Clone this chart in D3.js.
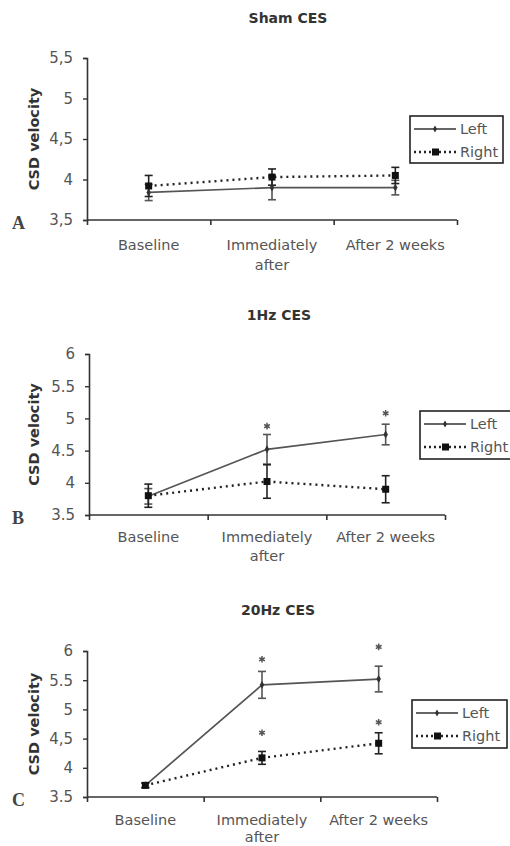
<!DOCTYPE html>
<html><head><meta charset="utf-8">
<script src="https://cdn.jsdelivr.net/npm/d3@7/dist/d3.min.js"></script>
<style>
html,body{margin:0;padding:0;background:#fff;}
svg{display:block;}
</style></head>
<body>
<svg id="chart" width="510" height="846"></svg>
<script>
// ---- data ----
const categories = [["Baseline"], ["Immediately", "after"], ["After 2 weeks"]];
const panelTitles = ["Sham CES", "1Hz CES", "20Hz CES"];
const panelLetters = ["A", "B", "C"];
const seriesNames = ["Left", "Right"];

const shamLeft = [3.84, 3.90, 3.90];
const shamLeftErr = [0.10, 0.15, 0.09];
const shamRight = [3.92, 4.03, 4.05];
const shamRightErr = [0.13, 0.10, 0.10];

const hz1Left = [3.79, 4.52, 4.75];
const hz1LeftErr = [0.12, 0.23, 0.16];
const hz1Right = [3.80, 4.02, 3.90];
const hz1RightErr = [0.18, 0.26, 0.21];
const hz1LeftStars = [null, 4.88, 5.08];
const hz1RightStars = [null, null, null];

const hz20Left = [3.70, 5.42, 5.52];
const hz20LeftErr = [0.04, 0.23, 0.22];
const hz20Right = [3.70, 4.17, 4.42];
const hz20RightErr = [0.04, 0.11, 0.18];
const hz20LeftStars = [null, 5.86, 6.07];
const hz20RightStars = [null, 4.60, 4.78];

const shamTicks = ["3,5", "4", "4,5", "5", "5,5"];
const hz1Ticks = ["3.5", "4", "4.5", "5", "5.5", "6"];
const hz20Ticks = ["3.5", "4", "4,5", "5", "5.5", "6"];
const shamTickValues = [3.5, 4, 4.5, 5, 5.5];
const hzTickValues = [3.5, 4, 4.5, 5, 5.5, 6];

// ---- layout ----
const panels = [
  {title: panelTitles[0], letter: panelLetters[0], left: shamLeft, leftErr: shamLeftErr, right: shamRight, rightErr: shamRightErr,
   leftStars: [null,null,null], rightStars: [null,null,null], ticks: shamTickValues, tickLabels: shamTicks, domain: [3.5, 5.5],
   x0: 87, x1: 457, y0: 58, y1: 220, titleY: 23, titleX: 288, labOff: 30, labDy: 20, legend: {x: 410, y: 116, w: 93, h: 47}},
  {title: panelTitles[1], letter: panelLetters[1], left: hz1Left, leftErr: hz1LeftErr, right: hz1Right, rightErr: hz1RightErr,
   leftStars: hz1LeftStars, rightStars: hz1RightStars, ticks: hzTickValues, tickLabels: hz1Ticks, domain: [3.5, 6],
   x0: 89, x1: 445, y0: 354, y1: 515, titleY: 320, titleX: 279, labOff: 27, labDy: 19, legend: {x: 420, y: 411, w: 96, h: 48}},
  {title: panelTitles[2], letter: panelLetters[2], left: hz20Left, leftErr: hz20LeftErr, right: hz20Right, rightErr: hz20RightErr,
   leftStars: hz20LeftStars, rightStars: hz20RightStars, ticks: hzTickValues, tickLabels: hz20Ticks, domain: [3.5, 6],
   x0: 87, x1: 437, y0: 651, y1: 797, titleY: 615, titleX: 278, labOff: 28, labDy: 17, legend: {x: 412, y: 700, w: 95, h: 48}}
];

const svg = d3.select("#chart");
const FONT = "'DejaVu Sans', Verdana, sans-serif";
const axisColor = "#333";
const textColor = "#555";

panels.forEach(p => {
  const g = svg.append("g").attr("font-family", FONT);
  const x = d3.scaleBand().domain(d3.range(categories.length)).range([p.x0, p.x1]);
  const y = d3.scaleLinear().domain(p.domain).range([p.y1, p.y0]);
  const cx = i => x(i) + x.bandwidth() / 2;

  // title
  g.append("text").attr("x", p.titleX).attr("y", p.titleY).attr("text-anchor", "middle")
    .attr("font-size", 14).attr("font-weight", "bold").attr("fill", "#333").text(p.title);

  // y axis
  const yAxis = d3.axisLeft(y).tickValues(p.ticks).tickSize(4).tickPadding(10)
    .tickFormat((d, i) => p.tickLabels[i]);
  const ya = g.append("g").attr("transform", `translate(${p.x0},0)`).call(yAxis);
  ya.attr("font-family", FONT);
  ya.select(".domain").attr("stroke", axisColor).attr("stroke-width", 1.6);
  ya.selectAll(".tick line").attr("stroke", axisColor).attr("stroke-width", 1.4);
  ya.selectAll(".tick text").attr("font-size", 15).attr("fill", textColor);

  // x axis
  const xTickScale = d3.scaleLinear().domain([0, categories.length]).range([p.x0, p.x1]);
  const xa = g.append("g").attr("transform", `translate(0,${p.y1})`)
    .call(d3.axisBottom(xTickScale).tickValues(d3.range(categories.length + 1)).tickSize(5).tickFormat(""));
  xa.select(".domain").attr("stroke", axisColor).attr("stroke-width", 1.6).attr("d", `M${p.x0},0H${p.x1}`);
  xa.selectAll(".tick line").attr("stroke", axisColor).attr("stroke-width", 1.6);

  // category labels
  categories.forEach((lines, i) => {
    const t = g.append("text").attr("x", cx(i)).attr("y", p.y1 + p.labOff).attr("text-anchor", "middle")
      .attr("font-size", 14.5).attr("fill", textColor);
    lines.forEach((ln, k) => t.append("tspan").attr("x", cx(i)).attr("dy", k === 0 ? 0 : p.labDy).text(ln));
  });

  // y label
  const ym = (p.y0 + p.y1) / 2;
  g.append("text").attr("transform", `translate(39,${ym}) rotate(-90)`).attr("text-anchor", "middle")
    .attr("font-size", 14.5).attr("font-weight", "bold").attr("fill", "#333").text("CSD velocity");

  // panel letter
  g.append("text").attr("x", 12).attr("y", p.y1 + 9).attr("font-family", "'Liberation Serif', 'DejaVu Serif', serif")
    .attr("font-size", 18).attr("font-weight", "bold").attr("fill", "#444").text(p.letter);

  // lines
  const line = d3.line().x((d, i) => cx(i)).y(d => y(d));
  g.append("path").datum(p.left).attr("d", line).attr("fill", "none")
    .attr("stroke", "#555").attr("stroke-width", 1.7);
  g.append("path").datum(p.right).attr("d", line).attr("fill", "none")
    .attr("stroke", "#222").attr("stroke-width", 2.4).attr("stroke-dasharray", "2,4");

  // error bars
  const drawErr = (vals, errs, color) => {
    vals.forEach((v, i) => {
      const xx = cx(i), top = y(v + errs[i]), bot = y(v - errs[i]);
      g.append("line").attr("x1", xx).attr("x2", xx).attr("y1", top).attr("y2", bot)
        .attr("stroke", color).attr("stroke-width", 1.6);
      [top, bot].forEach(yy => g.append("line").attr("x1", xx - 4).attr("x2", xx + 4).attr("y1", yy).attr("y2", yy)
        .attr("stroke", color).attr("stroke-width", 1.6));
    });
  };
  drawErr(p.left, p.leftErr, "#555");
  drawErr(p.right, p.rightErr, "#222");

  // markers
  p.left.forEach((v, i) => {
    g.append("path").attr("d", d3.symbol(d3.symbolDiamond, 18)()).attr("transform", `translate(${cx(i)},${y(v)})`)
      .attr("fill", "#333");
  });
  p.right.forEach((v, i) => {
    g.append("rect").attr("x", cx(i) - 3.5).attr("y", y(v) - 3.5).attr("width", 7).attr("height", 7).attr("fill", "#111");
  });

  // stars (significance markers)
  const drawStars = (stars) => stars.forEach((s, i) => {
    if (s == null) return;
    g.append("path").attr("d", d3.symbol(d3.symbolAsterisk, 30)()).attr("transform", `translate(${cx(i)},${y(s)})`)
      .attr("fill", "none").attr("stroke", "#555").attr("stroke-width", 1.5);
  });
  drawStars(p.leftStars);
  drawStars(p.rightStars);

  // legend
  const L = p.legend;
  g.append("rect").attr("x", L.x).attr("y", L.y).attr("width", L.w).attr("height", L.h)
    .attr("fill", "#fff").attr("stroke", "#222").attr("stroke-width", 1.6);
  const ly1 = L.y + 13, ly2 = L.y + 36;
  g.append("line").attr("x1", L.x + 4).attr("x2", L.x + 46).attr("y1", ly1).attr("y2", ly1)
    .attr("stroke", "#333").attr("stroke-width", 1.6);
  g.append("path").attr("d", d3.symbol(d3.symbolDiamond, 14)()).attr("transform", `translate(${L.x + 25},${ly1})`).attr("fill", "#333");
  g.append("line").attr("x1", L.x + 4).attr("x2", L.x + 46).attr("y1", ly2).attr("y2", ly2)
    .attr("stroke", "#222").attr("stroke-width", 2.4).attr("stroke-dasharray", "2,3");
  g.append("rect").attr("x", L.x + 22).attr("y", ly2 - 3.5).attr("width", 7).attr("height", 7).attr("fill", "#111");
  g.append("text").attr("x", L.x + 50).attr("y", ly1 + 5).attr("font-size", 14.5).attr("fill", textColor).text(seriesNames[0]);
  g.append("text").attr("x", L.x + 50).attr("y", ly2 + 5).attr("font-size", 14.5).attr("fill", textColor).text(seriesNames[1]);
});
</script>
</body></html>
